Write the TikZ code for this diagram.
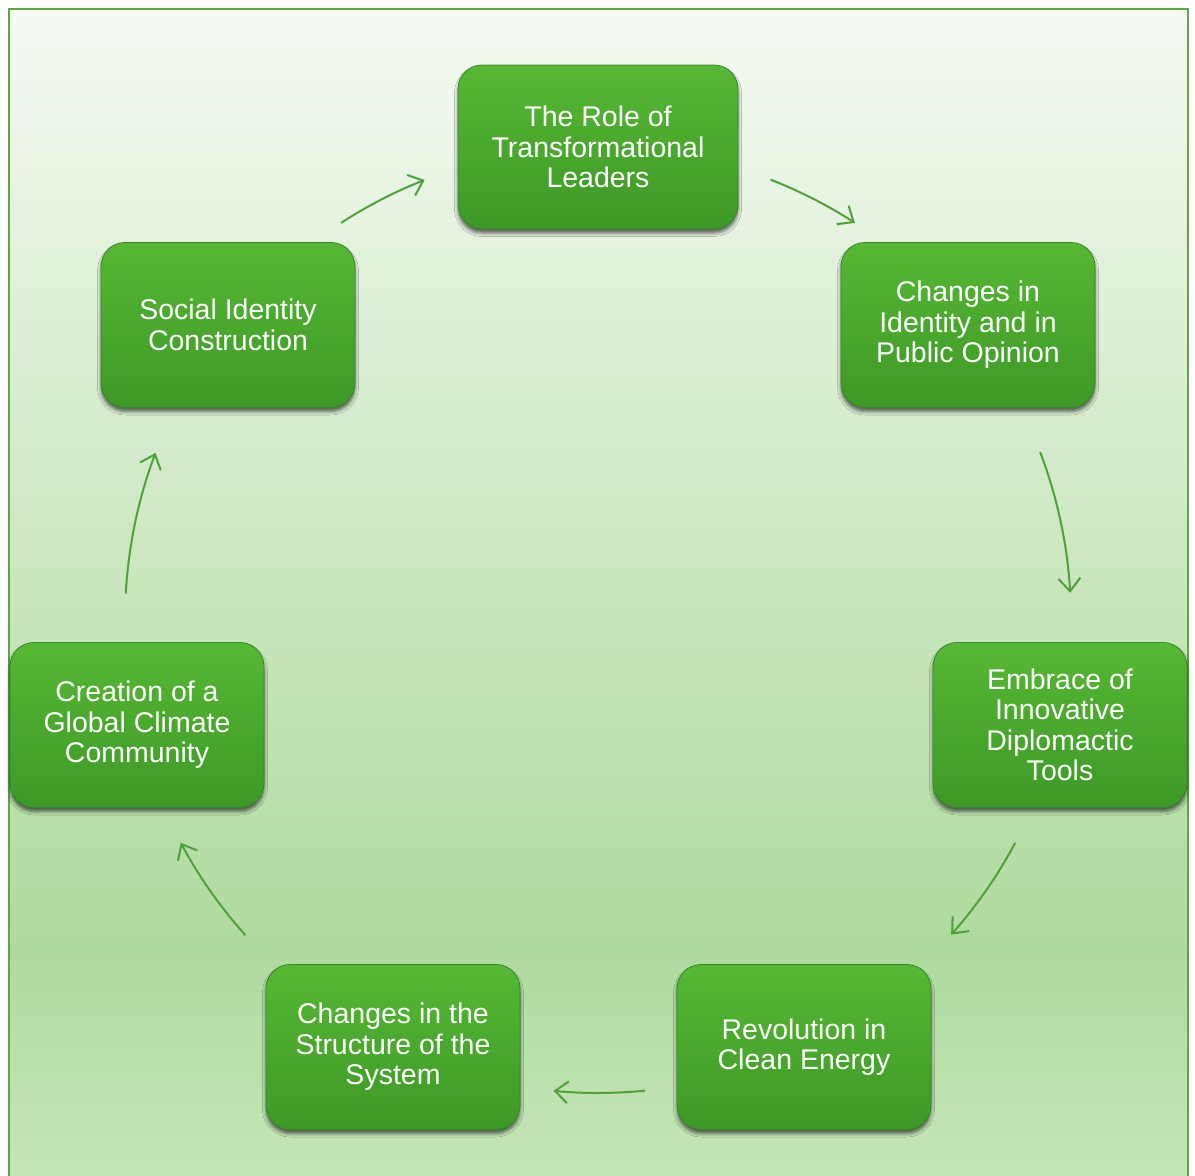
\documentclass[tikz,border=0pt]{standalone}
\usepackage{fontspec}
\setmainfont{Liberation Sans}
\usetikzlibrary{arrows.meta,shadows.blur}

\definecolor{bgtop}{HTML}{F5FAF3}
\definecolor{bgmid}{HTML}{AFDA9E}
\definecolor{bgbot}{HTML}{C5E6B9}
\definecolor{frame}{HTML}{5AA83E}
\definecolor{boxtop}{HTML}{56B833}
\definecolor{boxbot}{HTML}{3D9927}
\definecolor{boxedge}{HTML}{37852A}
\definecolor{arrowc}{HTML}{4FA23A}

\tikzset{
  stagebox/.style={
    rounded corners=24pt,
    top color=boxtop, bottom color=boxbot,
    draw=boxedge, line width=0.8pt,
    minimum width=254pt, minimum height=165pt,
    align=center, text=white,
    font=\fontsize{28.5}{30.5}\selectfont,
    blur shadow={shadow xshift=0pt, shadow yshift=-4pt,
                 shadow blur radius=3.5pt, shadow opacity=60}
  },
  cyclearrow/.style={
    draw=arrowc, line width=2pt,
    -{Straight Barb[length=13pt,width=22pt]}
  }
}

\begin{document}
\begin{tikzpicture}[x=1pt,y=1pt]
  \useasboundingbox (0,0) rectangle (1195,-1176);
  \clip (0,0) rectangle (1195,-1176);

  % background panel with frame
  \shade[top color=bgtop, bottom color=bgmid] (9,-9) rectangle (1188,-950);
  \shade[top color=bgmid, bottom color=bgbot] (9,-950) rectangle (1188,-1176);
  \draw[frame, line width=2.5pt] (9,-1200) -- (9,-9) -- (1188,-9) -- (1188,-1200);

  % stages of the cycle
  \node[stagebox, minimum width=280pt, minimum height=164pt] (leaders) at (598,-147)
    {The Role of\\Transformational\\Leaders};
  \node[stagebox] (opinion) at (968,-325)
    {Changes in\\Identity and in\\Public Opinion};
  \node[stagebox] (tools) at (1060,-725)
    {Embrace of\\Innovative\\Diplomactic\\Tools};
  \node[stagebox] (energy) at (804,-1047)
    {Revolution in\\Clean Energy};
  \node[stagebox] (structure) at (393,-1047)
    {Changes in the\\Structure of the\\System};
  \node[stagebox] (community) at (137,-725)
    {Creation of a\\Global Climate\\Community};
  \node[stagebox] (identity) at (228,-325)
    {Social Identity\\Construction};

  % arcs between stages, all on one circle
  \coordinate (c) at (598,-620);
  \path (c) ++(122.9:473) coordinate (s1);
  \path (c) ++(68.6:473)  coordinate (s2);
  \path (c) ++(20.8:473)  coordinate (s3);
  \path (c) ++(-28.1:473) coordinate (s4);
  \path (c) ++(-84.3:473) coordinate (s5);
  \path (c) ++(-138.2:473) coordinate (s6);
  \path (c) ++(176.8:473) coordinate (s7);

  \draw[cyclearrow] (s1) arc[start angle=122.9, end angle=111.5, radius=473];
  \draw[cyclearrow] (s2) arc[start angle=68.6, end angle=57.1, radius=473];
  \draw[cyclearrow] (s3) arc[start angle=20.8, end angle=3.3, radius=473];
  \draw[cyclearrow] (s4) arc[start angle=-28.1, end angle=-41.7, radius=473];
  \draw[cyclearrow] (s5) arc[start angle=-84.3, end angle=-95.4, radius=473];
  \draw[cyclearrow] (s6) arc[start angle=-138.2, end angle=-151.9, radius=473];
  \draw[cyclearrow] (s7) arc[start angle=176.8, end angle=159.3, radius=473];
\end{tikzpicture}
\end{document}
